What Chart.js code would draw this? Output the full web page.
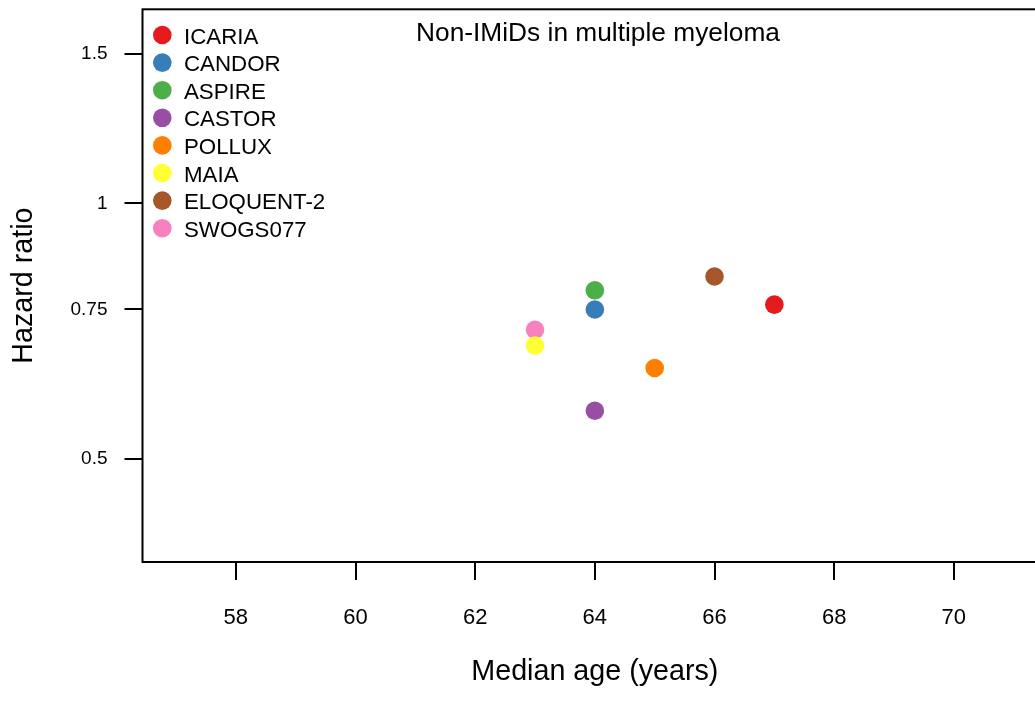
<!DOCTYPE html>
<html>
<head>
<meta charset="utf-8">
<script src="https://cdn.jsdelivr.net/npm/chart.js@4/dist/chart.umd.min.js"></script>
<style>
  html, body { margin: 0; padding: 0; background: #fff; overflow: hidden; }
  #wrap { width: 1035px; height: 702px; overflow: hidden; }
</style>
</head>
<body>
<div id="wrap"><canvas id="myChart" width="1060" height="702"></canvas></div>
<script>
var trials = ['ICARIA', 'CANDOR', 'ASPIRE', 'CASTOR', 'POLLUX', 'MAIA', 'ELOQUENT-2', 'SWOGS077'];
var medianAge = [67, 64, 64, 64, 65, 63, 66, 63];
var hazardRatio = [0.76, 0.75, 0.79, 0.57, 0.64, 0.68, 0.82, 0.71];
var colors = ['#E41A1C', '#377EB8', '#4DAF4A', '#984EA3', '#FF7F00', '#FFFF33', '#A65628', '#F781BF'];
var xTicks = [58, 60, 62, 64, 66, 68, 70];
var yTicks = [0.5, 0.75, 1, 1.5];

var FONT = '"Liberation Sans", Arial, sans-serif';

var datasets = [];
for (var i in trials) {
	datasets.push({
		label: trials[i],
		data: [{x: medianAge[i], y: hazardRatio[i]}],
		backgroundColor: colors[i],
		borderWidth: 0,
		pointRadius: 9.3,
		pointHoverRadius: 9.3
	});
}

// box, title and legend drawn on top
var extras = {
	id: 'extras',
	afterDraw: function(chart) {
		var ctx = chart.ctx;
		var a = chart.chartArea;
		ctx.save();
		ctx.strokeStyle = '#000';
		ctx.lineWidth = 2;
		ctx.strokeRect(a.left, a.top, a.right - a.left, a.bottom - a.top);

		ctx.fillStyle = '#000';
		ctx.font = '26.3px ' + FONT;
		ctx.textAlign = 'center';
		ctx.textBaseline = 'alphabetic';
		ctx.fillText('Non-IMiDs in multiple myeloma', 598, 41);

		ctx.font = '22.3px ' + FONT;
		ctx.textAlign = 'left';
		chart.data.datasets.forEach(function(ds, k) {
			var cy = 35 + k * 27.6;
			ctx.beginPath();
			ctx.arc(162.3, cy, 9.3, 0, Math.PI * 2);
			ctx.fillStyle = ds.backgroundColor;
			ctx.fill();
			ctx.fillStyle = '#000';
			ctx.fillText(ds.label, 184, cy + 8.5);
		});
		ctx.restore();
	}
};

var ctx = document.getElementById('myChart');

var scatter = new Chart(ctx, {
	type: 'scatter',
	data: { datasets: datasets },
	options: {
		responsive: false,
		animation: false,
		devicePixelRatio: 1,
		layout: { padding: { top: 8, right: 12.8, left: 0, bottom: 0 } },
		plugins: {
			legend: { display: false },
			tooltip: { enabled: false },
			title: { display: false }
		},
		scales: {
			x: {
				type: 'linear',
				min: 56.44,
				max: 71.56,
				afterBuildTicks: function(scale) {
					scale.ticks = xTicks.map(function(v) { return {value: v}; });
				},
				afterFit: function(scale) {
					scale.height = 140;
					scale.paddingLeft = 0;
					scale.paddingRight = 0;
				},
				border: { display: false },
				grid: { drawOnChartArea: false, drawTicks: true, tickLength: 18, color: '#000', lineWidth: 2 },
				ticks: {
					autoSkip: false, maxRotation: 0, padding: 24.6, color: '#000',
					font: { family: FONT, size: 22 },
					callback: function(v) { return String(v); }
				},
				title: {
					display: true, text: 'Median age (years)', color: '#000',
					font: { family: FONT, size: 28.7, lineHeight: 1 },
					padding: { top: 0, bottom: 16 }
				}
			},
			y: {
				type: 'logarithmic',
				min: 0.3784,
				max: 1.6914,
				afterBuildTicks: function(scale) {
					scale.ticks = yTicks.map(function(v) { return {value: v}; });
				},
				afterFit: function(scale) {
					scale.width = 142.5;
					scale.paddingTop = 0;
					scale.paddingBottom = 0;
				},
				border: { display: false },
				grid: { drawOnChartArea: false, drawTicks: true, tickLength: 18, color: '#000', lineWidth: 2 },
				ticks: {
					autoSkip: false, padding: 17, color: '#000',
					font: { family: FONT, size: 19 },
					callback: function(v) { return String(v); }
				},
				title: {
					display: true, text: 'Hazard ratio', color: '#000',
					font: { family: FONT, size: 28.7, lineHeight: 1 },
					padding: { top: 9.5, bottom: 0 }
				}
			}
		}
	},
	plugins: [extras]
});
</script>
</body>
</html>
